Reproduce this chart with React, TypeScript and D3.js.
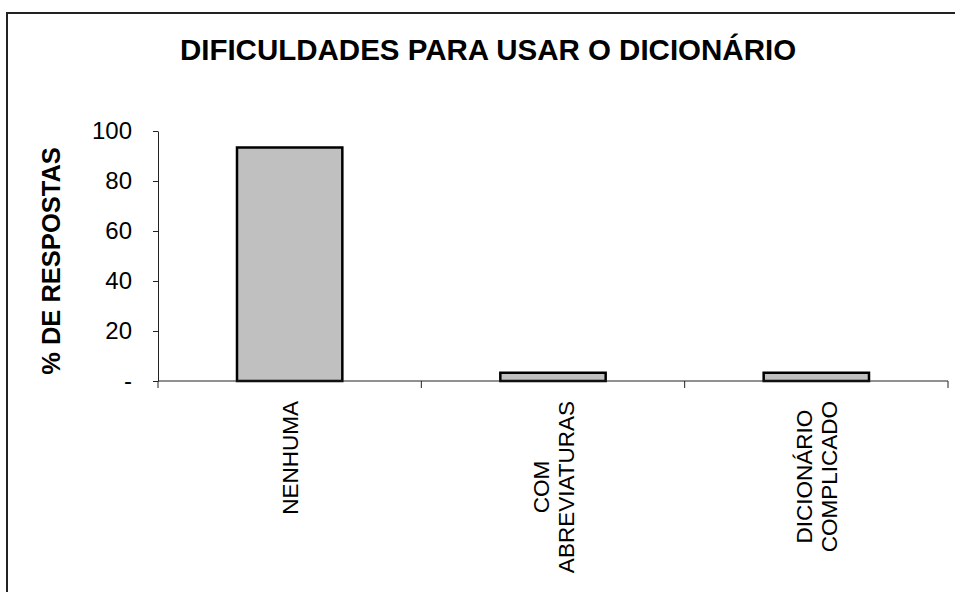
import React, { useRef, useEffect } from 'react';
import * as d3 from 'd3';

const categories = ['NENHUMA', 'COM\nABREVIATURAS', 'DICIONÁRIO\nCOMPLICADO'];
const values = [93.4, 3.3, 3.3];
const yTicks = [0, 20, 40, 60, 80, 100];
const yTickLabels = ['-', '20', '40', '60', '80', '100'];

const W = 955;
const H = 592;
const FONT = 'Arial, "Liberation Sans", Helvetica, sans-serif';

const App = () => {
    const svgRef = useRef<SVGSVGElement>(null);

    useEffect(() => {
        const svg = d3.select(svgRef.current);
        svg.selectAll('*').remove();

        const plot = { left: 158, right: 948, top: 131, bottom: 381 };

        const x = d3.scaleBand()
            .domain(categories)
            .range([plot.left, plot.right])
            .paddingInner(0.6)
            .paddingOuter(0.3);
        const step = x.step();

        const y = d3.scaleLinear().domain([0, 100]).range([plot.bottom, plot.top]);

        // frame
        svg.append('rect')
            .attr('x', 7).attr('y', 13)
            .attr('width', W + 10).attr('height', H + 10)
            .attr('fill', 'white')
            .attr('stroke', '#222')
            .attr('stroke-width', 2);

        // title
        svg.append('text')
            .attr('x', 488).attr('y', 60)
            .attr('text-anchor', 'middle')
            .style('font-family', FONT)
            .style('font-size', '29.5px')
            .style('font-weight', 'bold')
            .text('DIFICULDADES PARA USAR O DICIONÁRIO');

        // y axis title
        svg.append('text')
            .attr('transform', `translate(60, 261) rotate(-90)`)
            .attr('text-anchor', 'middle')
            .style('font-family', FONT)
            .style('font-size', '25.5px')
            .style('font-weight', 'bold')
            .text('% DE RESPOSTAS');

        // bars
        svg.append('g')
            .selectAll('rect')
            .data(values)
            .enter()
            .append('rect')
            .attr('x', (d, i) => x(categories[i]))
            .attr('y', d => y(d))
            .attr('width', x.bandwidth())
            .attr('height', d => y(0) - y(d))
            .attr('fill', '#c0c0c0')
            .attr('stroke', '#000')
            .attr('stroke-width', 2.5);

        // y axis
        const yAxis = d3.axisLeft(y)
            .tickValues(yTicks)
            .tickFormat((d, i) => yTickLabels[i])
            .tickSize(5)
            .tickSizeOuter(0)
            .tickPadding(21);

        const gy = svg.append('g')
            .attr('transform', `translate(${plot.left}, 0)`)
            .call(yAxis);
        gy.selectAll('line, path').attr('stroke', '#222');
        gy.selectAll('text')
            .style('font-family', FONT)
            .style('font-size', '24px')
            .attr('fill', '#000');

        // x axis line and ticks at band boundaries
        const gx = svg.append('g');
        gx.append('line')
            .attr('x1', plot.left).attr('x2', plot.right)
            .attr('y1', plot.bottom).attr('y2', plot.bottom)
            .attr('stroke', '#222');
        gx.selectAll('.xtick')
            .data(d3.range(categories.length + 1))
            .enter()
            .append('line')
            .attr('class', 'xtick')
            .attr('x1', i => plot.left + i * step)
            .attr('x2', i => plot.left + i * step)
            .attr('y1', plot.bottom)
            .attr('y2', plot.bottom + 7)
            .attr('stroke', '#222');

        // category labels, rotated, block top at the axis
        const labelTop = 401;
        const fs = 22.5;
        const lineGap = 25;
        categories.forEach(cat => {
            const lines = cat.split('\n');
            const cx = (x(cat) as number) + x.bandwidth() / 2;
            const texts = lines.map((ln, j) => {
                const capCenter = cx + (j - (lines.length - 1) / 2) * lineGap;
                return svg.append('text')
                    .attr('text-anchor', 'middle')
                    .style('font-family', FONT)
                    .style('font-size', fs + 'px')
                    .attr('data-x', capCenter + fs * 0.36)
                    .text(ln);
            });
            const lens = texts.map(t => (t.node() as SVGTextElement).getComputedTextLength());
            const maxLen = d3.max(lens) as number;
            const midY = labelTop + maxLen / 2;
            texts.forEach(t => {
                t.attr('transform', `translate(${t.attr('data-x')}, ${midY}) rotate(-90)`);
            });
        });
    }, []);

    return (
        <svg
            ref={svgRef}
            width={W}
            height={H}
            style={{ position: 'absolute', left: 0, top: 0, background: 'white' }}
        ></svg>
    );
};

export default App;
